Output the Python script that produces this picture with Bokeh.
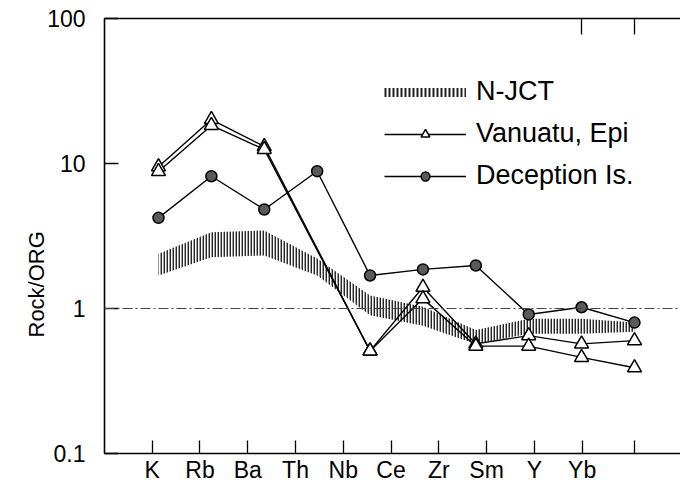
from bokeh.plotting import figure
from bokeh.models import (FixedTicker, LinearAxis, Span, Legend, LegendItem, Title,
                          Range1d, CustomJSTickFormatter)
from bokeh.embed import file_html
from bokeh.resources import INLINE

# ---- data ----
elements = ["K", "Rb", "Ba", "Th", "Nb", "Ce", "Zr", "Sm", "Y", "Yb"]
njct_upper = [2.39, 3.36, 3.45, 2.21, 1.23, 1.03, 0.71, 0.85, 0.85, 0.80]
njct_lower = [1.69, 2.26, 2.32, 1.69, 0.90, 0.76, 0.57, 0.67, 0.67, 0.69]
vanuatu_a = [9.5, 20.1, 13.1, None, 0.51, 1.40, 0.57, 0.65, 0.57, 0.60]
vanuatu_b = [8.8, 18.3, 12.5, None, 0.51, 1.17, 0.55, 0.55, 0.46, 0.39]
deception = [4.22, 8.17, 4.82, 8.85, 1.69, 1.86, 1.98, 0.91, 1.02, 0.80]
y_ticks = [0.1, 1, 10, 100]

FONT = "Liberation Sans"
idx = list(range(len(elements)))


def present(vals):
    xs = [i for i, v in zip(idx, vals) if v is not None]
    ys = [v for v in vals if v is not None]
    return xs, ys


p = figure(width=680, height=491, y_axis_type="log",
           x_range=Range1d(-1.021, 9.87), y_range=Range1d(0.1, 100),
           output_backend="svg", toolbar_location=None,
           min_border_left=104, min_border_right=0, min_border_top=18, min_border_bottom=38)
p.outline_line_color = None
p.grid.visible = False
p.background_fill_color = "white"

# N-JCT band (vertical hatching)
p.varea(x=idx, y1=njct_lower, y2=njct_upper, fill_alpha=0,
        hatch_pattern="vertical_line", hatch_color="#111111", hatch_scale=3,
        hatch_weight=1.9, hatch_alpha=0.9)

# reference line at 1
p.add_layout(Span(location=1, dimension="width", line_color="#444",
                  line_width=1, line_dash="10 3 2 3"))

# Vanuatu, Epi (two samples)
xa, ya = present(vanuatu_a)
xb, yb = present(vanuatu_b)
la = p.line(xa, ya, line_color="black", line_width=1.4)
lb = p.line(xb, yb, line_color="black", line_width=1.4)
ta = p.scatter(xa, ya, marker="triangle", size=14, fill_color="white",
               line_color="black", line_width=1.5)
tb = p.scatter(xb, yb, marker="triangle", size=14, fill_color="white",
               line_color="black", line_width=1.5)

# Deception Is.
ld = p.line(idx, deception, line_color="black", line_width=1.4)
cd = p.scatter(idx, deception, marker="circle", size=11, fill_color="#5a5a5a",
               line_color="black", line_width=1.5)

# legend-only swatch for the hatched band (no visible data)
nan = float("nan")
band_key = p.line([nan], [nan], line_color="#222", line_width=9, line_dash="2 2")

legend = Legend(items=[
    LegendItem(label="N-JCT", renderers=[band_key]),
    LegendItem(label="Vanuatu, Epi", renderers=[la, ta]),
    LegendItem(label="Deception Is.", renderers=[ld, cd]),
], location=(280, 262), orientation="vertical")
legend.glyph_width = 82
legend.glyph_height = 22
legend.label_standoff = 10
legend.spacing = 11
legend.padding = 0
legend.margin = 0
legend.border_line_color = None
legend.background_fill_alpha = 0
legend.label_text_font = FONT
legend.label_text_font_size = "27px"
legend.label_text_color = "black"
p.add_layout(legend, "center")

# x axis: labelled ticks
label_step = 47.78 / 52.9
label_start = (151.7 - 158.0) / 52.9
tick_pos = [round(label_start + label_step * j, 4) for j in range(len(elements))]
overrides = {t: lab for t, lab in zip(tick_pos, elements)}
overrides[9.0] = ""
xax = p.xaxis[0]
xax.ticker = FixedTicker(ticks=tick_pos + [9.0], minor_ticks=[])
xax.major_label_overrides = overrides
xax.major_tick_in = 13
xax.major_tick_out = 0
xax.minor_tick_line_color = None
xax.axis_line_width = 1.6
xax.major_tick_line_width = 1.3
xax.major_label_standoff = 3
xax.major_label_text_font = FONT
xax.major_label_text_font_size = "23px"
xax.major_label_text_color = "black"

# y axis
yax = p.yaxis[0]
yax.ticker = FixedTicker(ticks=y_ticks, minor_ticks=[])
yax.formatter = CustomJSTickFormatter(code="return String(tick)")
yax.major_tick_in = 14
yax.major_tick_out = 0
yax.minor_tick_line_color = None
yax.axis_line_width = 1.6
yax.major_tick_line_width = 1.3
yax.major_label_standoff = 19
yax.major_label_text_font = FONT
yax.major_label_text_font_size = "23px"
yax.major_label_text_color = "black"

# top frame line with two ticks
top = LinearAxis(ticker=FixedTicker(ticks=[8, 9], minor_ticks=[]),
                 major_tick_in=16, major_tick_out=0, minor_tick_line_color=None,
                 major_label_text_font_size="1px", major_label_standoff=0,
                 major_label_text_color=None, axis_line_width=1.6,
                 major_tick_line_width=1.3)
p.add_layout(top, "above")

# y axis title (placed lower than the centre, as in the reference)
ytitle = Title(text="Rock/ORG", align="left", offset=116, standoff=-9,
               text_font=FONT, text_font_size="22px", text_font_style="normal",
               text_color="black")
p.add_layout(ytitle, "left")

open("out.html", "w").write(file_html(p, INLINE))
